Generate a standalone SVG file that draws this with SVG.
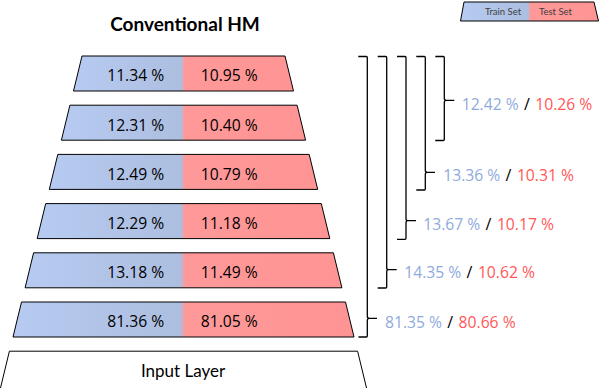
<svg xmlns="http://www.w3.org/2000/svg" width="600" height="388" viewBox="0 0 600 388">
<style>
.layer{fill:url(#lg);stroke:#000;stroke-width:1}
.in{fill:#fff;stroke:#000;stroke-width:1}
.v{font-family:"Open Sans","Liberation Sans",sans-serif;font-size:15.5px;fill:#000;text-anchor:middle}
.r{font-family:"Open Sans","Liberation Sans",sans-serif;font-size:16px}
.b{fill:#8faadc}.rd{fill:#ff5757}.sl{fill:#000;text-anchor:middle}
.br{fill:none;stroke:#000;stroke-width:1.3}
.lt{font-family:Lato,"Open Sans","Liberation Sans",sans-serif;font-size:9.5px;fill:#404040;text-anchor:middle}
</style>
<defs>
<linearGradient id="lg" x1="0" y1="0" x2="1" y2="0">
<stop offset="0" stop-color="#b7caf1"/>
<stop offset="0.49" stop-color="#acbfe0"/>
<stop offset="0.505" stop-color="#ff9999"/>
<stop offset="1" stop-color="#ff9494"/>
</linearGradient>
</defs>
<rect width="600" height="388" fill="#fff"/>
<text x="185" y="30.5" font-family="Lato,'Open Sans','Liberation Sans',sans-serif" font-size="19" font-weight="bold" text-anchor="middle">Conventional HM</text>
<g id="legend">
<polygon class="layer" points="464,2 594,2 598.5,21 460.5,21" stroke-width="0.8"/>
<text class="lt" x="503" y="15">Train Set</text>
<text class="lt" x="555.5" y="15">Test Set</text>
</g>
<g id="layer1"><polygon class="layer" points="82,56 285,56 293.5,91 73.5,91"/><text class="v" x="135.7" y="81.3" textLength="57" lengthAdjust="spacingAndGlyphs">11.34 %</text><text class="v" x="229.3" y="81.3" textLength="57" lengthAdjust="spacingAndGlyphs">10.95 %</text></g>
<g id="layer2"><polygon class="layer" points="69.9,105.2 297.1,105.2 305.6,140.2 61.4,140.2"/><text class="v" x="135.7" y="130.5" textLength="57" lengthAdjust="spacingAndGlyphs">12.31 %</text><text class="v" x="229.3" y="130.5" textLength="57" lengthAdjust="spacingAndGlyphs">10.40 %</text></g>
<g id="layer3"><polygon class="layer" points="57.8,154.4 309.2,154.4 317.7,189.4 49.3,189.4"/><text class="v" x="135.7" y="179.7" textLength="57" lengthAdjust="spacingAndGlyphs">12.49 %</text><text class="v" x="229.3" y="179.7" textLength="57" lengthAdjust="spacingAndGlyphs">10.79 %</text></g>
<g id="layer4"><polygon class="layer" points="45.7,203.6 321.3,203.6 329.8,238.6 37.2,238.6"/><text class="v" x="135.7" y="228.9" textLength="57" lengthAdjust="spacingAndGlyphs">12.29 %</text><text class="v" x="229.3" y="228.9" textLength="57" lengthAdjust="spacingAndGlyphs">11.18 %</text></g>
<g id="layer5"><polygon class="layer" points="33.6,252.8 333.4,252.8 341.9,287.8 25.1,287.8"/><text class="v" x="135.7" y="278.1" textLength="57" lengthAdjust="spacingAndGlyphs">13.18 %</text><text class="v" x="229.3" y="278.1" textLength="57" lengthAdjust="spacingAndGlyphs">11.49 %</text></g>
<g id="layer6"><polygon class="layer" points="21.5,302 345.5,302 354,337 13,337"/><text class="v" x="135.7" y="327.3" textLength="57" lengthAdjust="spacingAndGlyphs">81.36 %</text><text class="v" x="229.3" y="327.3" textLength="57" lengthAdjust="spacingAndGlyphs">81.05 %</text></g>
<g id="input"><polygon class="in" points="9.4,351.2 357.6,351.2 367,390 0,390"/><text x="183" y="376.7" font-family="Lato,'Open Sans','Liberation Sans',sans-serif" font-size="17" text-anchor="middle">Input Layer</text></g>
<g id="connectors">
<path class="br" d="M358.3,56.5 H366.3 Q367.3,56.5 367.3,57.5 V316.3 Q367.3,318.3 369.3,318.3 H377 M369.3,318.3 Q367.3,318.3 367.3,320.3 V336 Q367.3,337 366.3,337 H358.5"/>
<path class="br" d="M377.7,56.5 H385.7 Q386.7,56.5 386.7,57.5 V267.7 Q386.7,269.7 388.7,269.7 H396.7 M388.7,269.7 Q386.7,269.7 386.7,271.7 V287 Q386.7,288 385.7,288 H377.7"/>
<path class="br" d="M397,56.5 H405 Q406,56.5 406,57.5 V218.7 Q406,220.7 408,220.7 H416 M408,220.7 Q406,220.7 406,222.7 V238.3 Q406,239.3 405,239.3 H397"/>
<path class="br" d="M416.3,56.5 H424.3 Q425.3,56.5 425.3,57.5 V170.3 Q425.3,172.3 427.3,172.3 H435 M427.3,172.3 Q425.3,172.3 425.3,174.3 V189 Q425.3,190 424.3,190 H416.3"/>
<path class="br" d="M435.3,56.5 H443.3 Q444.3,56.5 444.3,57.5 V98.3 Q444.3,100.3 446.3,100.3 H454.3 M446.3,100.3 Q444.3,100.3 444.3,102.3 V139.5 Q444.3,140.5 443.3,140.5 H435.3"/>
</g>
<g id="results">
<g id="res1"><text class="r b" x="385" y="328.3" textLength="57" lengthAdjust="spacingAndGlyphs">81.35 %</text><text class="r sl" x="450.2" y="328.3">/</text><text class="r rd" x="458.6" y="328.3" textLength="57" lengthAdjust="spacingAndGlyphs">80.66 %</text></g>
<g id="res2"><text class="r b" x="404.3" y="277.5" textLength="57" lengthAdjust="spacingAndGlyphs">14.35 %</text><text class="r sl" x="469.5" y="277.5">/</text><text class="r rd" x="477.9" y="277.5" textLength="57" lengthAdjust="spacingAndGlyphs">10.62 %</text></g>
<g id="res3"><text class="r b" x="423.3" y="229.5" textLength="57" lengthAdjust="spacingAndGlyphs">13.67 %</text><text class="r sl" x="488.5" y="229.5">/</text><text class="r rd" x="496.9" y="229.5" textLength="57" lengthAdjust="spacingAndGlyphs">10.17 %</text></g>
<g id="res4"><text class="r b" x="443.3" y="180.7" textLength="57" lengthAdjust="spacingAndGlyphs">13.36 %</text><text class="r sl" x="508.5" y="180.7">/</text><text class="r rd" x="516.9" y="180.7" textLength="57" lengthAdjust="spacingAndGlyphs">10.31 %</text></g>
<g id="res5"><text class="r b" x="461.7" y="110" textLength="57" lengthAdjust="spacingAndGlyphs">12.42 %</text><text class="r sl" x="526.9" y="110">/</text><text class="r rd" x="535.3" y="110" textLength="57" lengthAdjust="spacingAndGlyphs">10.26 %</text></g>
</g>
</svg>
